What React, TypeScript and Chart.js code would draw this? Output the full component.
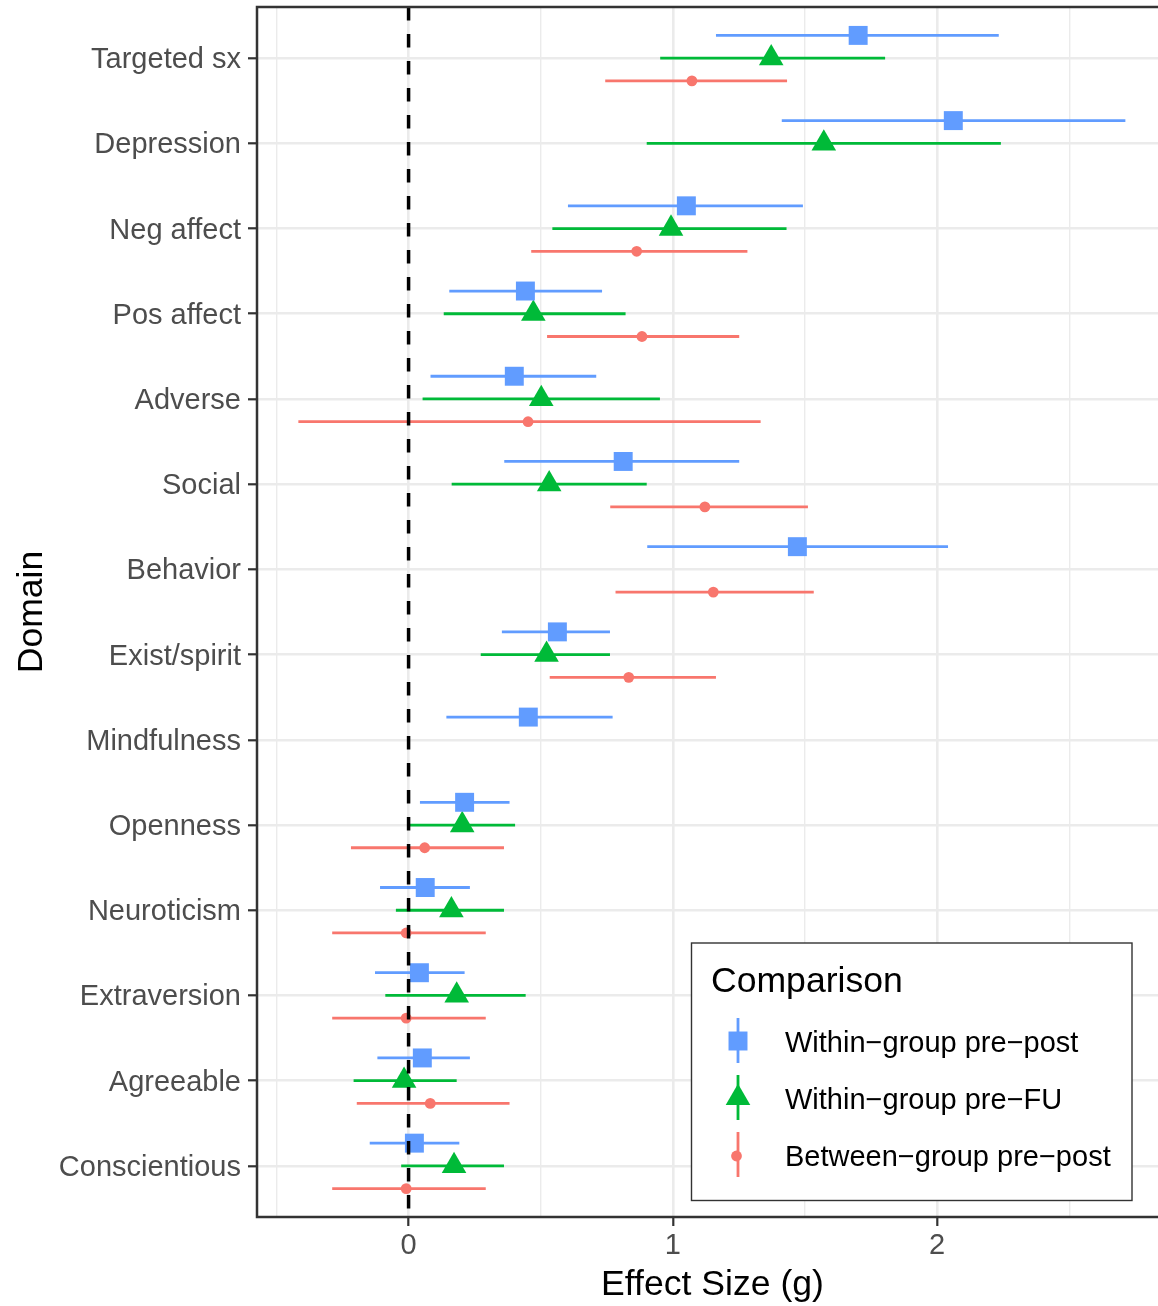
import React, { useEffect, useRef } from "react";
import { Chart, registerables } from "chart.js";

Chart.register(...registerables);

// ---------- data ----------
const DOMAINS = [
  "Targeted sx",
  "Depression",
  "Neg affect",
  "Pos affect",
  "Adverse",
  "Social",
  "Behavior",
  "Exist/spirit",
  "Mindfulness",
  "Openness",
  "Neuroticism",
  "Extraversion",
  "Agreeable",
  "Conscientious",
];

const SERIES_NAMES = [
  "Within\u2212group pre\u2212post",
  "Within\u2212group pre\u2212FU",
  "Between\u2212group pre\u2212post",
];

// Within-group pre-post
const PREPOST_EST = [1.701, 2.061, 1.051, 0.442, 0.4, 0.812, 1.471, 0.563, 0.453, 0.212, 0.063, 0.041, 0.052, 0.022];
const PREPOST_LO = [1.163, 1.412, 0.603, 0.154, 0.083, 0.362, 0.903, 0.353, 0.143, 0.043, -0.108, -0.127, -0.118, -0.147];
const PREPOST_HI = [2.233, 2.712, 1.492, 0.732, 0.71, 1.251, 2.041, 0.762, 0.772, 0.382, 0.232, 0.212, 0.232, 0.192];

// Within-group pre-FU
const PREFU_EST = [1.372, 1.571, 0.993, 0.472, 0.502, 0.532, null, 0.522, null, 0.203, 0.162, 0.182, -0.017, 0.172];
const PREFU_LO = [0.952, 0.901, 0.544, 0.133, 0.053, 0.163, null, 0.273, null, 0.005, -0.048, -0.088, -0.208, -0.028];
const PREFU_HI = [1.803, 2.241, 1.43, 0.821, 0.951, 0.901, null, 0.762, null, 0.403, 0.361, 0.443, 0.182, 0.361];

// Between-group pre-post
const BETWEEN_EST = [1.072, null, 0.863, 0.883, 0.452, 1.121, 1.153, 0.833, null, 0.061, -0.009, -0.009, 0.082, -0.009];
const BETWEEN_LO = [0.744, null, 0.464, 0.524, -0.417, 0.763, 0.783, 0.534, null, -0.218, -0.289, -0.289, -0.196, -0.289];
const BETWEEN_HI = [1.432, null, 1.282, 1.251, 1.332, 1.511, 1.533, 1.163, null, 0.361, 0.292, 0.292, 0.382, 0.292];

const X_TICKS = [-0.5, 0, 0.5, 1, 1.5, 2, 2.5];

// ---------- styles ----------
const FONT = "'Liberation Sans', Arial, Helvetica, sans-serif";
const COLORS = ["#619CFF", "#00BA38", "#F8766D"];
const POINT_STYLES = ["rect", "triangle", "circle"];
const POINT_RADII = [13.4, 14.2, 5.4];
const DODGE = [-0.2667, 0, 0.2667];
const X_MIN = -0.5735;
const X_MAX = 2.8733;
const BAR_WIDTH = 2.8;
const TICK_FONT_SIZE = 29;
const TITLE_FONT_SIZE = 35.6;

const SERIES = [
  { est: PREPOST_EST, lo: PREPOST_LO, hi: PREPOST_HI },
  { est: PREFU_EST, lo: PREFU_LO, hi: PREFU_HI },
  { est: BETWEEN_EST, lo: BETWEEN_LO, hi: BETWEEN_HI },
];

const errorBarPlugin = {
  id: "errorBars",
  beforeDatasetsDraw(chart: any) {
    const { ctx } = chart;
    const xs = chart.scales.x;
    const ys = chart.scales.y;
    chart.data.datasets.forEach((ds: any) => {
      ctx.save();
      ctx.strokeStyle = ds.backgroundColor;
      ctx.lineWidth = BAR_WIDTH;
      ctx.lineCap = "butt";
      ds.data.forEach((p: any) => {
        const py = ys.getPixelForValue(p.y);
        ctx.beginPath();
        ctx.moveTo(xs.getPixelForValue(p.lo), py);
        ctx.lineTo(xs.getPixelForValue(p.hi), py);
        ctx.stroke();
      });
      ctx.restore();
    });
  },
  afterDatasetsDraw(chart: any) {
    const { ctx, chartArea } = chart;
    const x0 = chart.scales.x.getPixelForValue(0);
    ctx.save();
    ctx.strokeStyle = "#000000";
    ctx.lineWidth = 3.5;
    ctx.setLineDash([13.5, 13.5]);
    ctx.beginPath();
    ctx.moveTo(x0, chartArea.top);
    ctx.lineTo(x0, chartArea.bottom);
    ctx.stroke();
    ctx.restore();
  },
  afterDraw(chart: any) {
    const { ctx, chartArea } = chart;
    ctx.save();
    // panel border
    ctx.strokeStyle = "#333333";
    ctx.lineWidth = 2.5;
    ctx.strokeRect(chartArea.left, chartArea.top, chartArea.right - chartArea.left, chartArea.bottom - chartArea.top);

    // axis titles
    ctx.fillStyle = "#000000";
    ctx.font = `${TITLE_FONT_SIZE}px ${FONT}`;
    ctx.textAlign = "center";
    ctx.textBaseline = "alphabetic";
    ctx.fillText("Effect Size (g)", (chartArea.left + chartArea.right) / 2, 1295);
    ctx.save();
    ctx.translate(41.5, (chartArea.top + chartArea.bottom) / 2);
    ctx.rotate(-Math.PI / 2);
    ctx.fillText("Domain", 0, 0);
    ctx.restore();

    // legend
    const lx = 691.5, ly = 943, lw = 440.5, lh = 257.5;
    ctx.fillStyle = "#ffffff";
    ctx.fillRect(lx, ly, lw, lh);
    ctx.strokeStyle = "#333333";
    ctx.lineWidth = 1.4;
    ctx.strokeRect(lx, ly, lw, lh);
    ctx.fillStyle = "#000000";
    ctx.textAlign = "left";
    ctx.font = `${TITLE_FONT_SIZE}px ${FONT}`;
    ctx.fillText("Comparison", 711, 992);
    ctx.font = `${TICK_FONT_SIZE}px ${FONT}`;
    SERIES_NAMES.forEach((name, k) => {
      const cx = 738;
      const cy = 1041 + k * 57;
      const col = COLORS[k];
      ctx.strokeStyle = col;
      ctx.lineWidth = BAR_WIDTH;
      ctx.beginPath();
      ctx.moveTo(cx, cy - 23);
      ctx.lineTo(cx, cy + 22);
      ctx.stroke();
      ctx.fillStyle = col;
      const style = POINT_STYLES[k];
      const r = POINT_RADII[k];
      if (style === "rect") {
        const h = r * Math.SQRT1_2;
        ctx.fillRect(cx - h, cy - h, 2 * h, 2 * h);
      } else if (style === "triangle") {
        ctx.beginPath();
        ctx.moveTo(cx, cy - r);
        ctx.lineTo(cx + r * Math.sin((2 * Math.PI) / 3), cy + r / 2);
        ctx.lineTo(cx - r * Math.sin((2 * Math.PI) / 3), cy + r / 2);
        ctx.closePath();
        ctx.fill();
      } else {
        ctx.beginPath();
        ctx.arc(cx - 1.5, cy + 1, r, 0, Math.PI * 2);
        ctx.fill();
      }
      ctx.fillStyle = "#000000";
      ctx.fillText(name, 785, cy + 10.5);
    });
    ctx.restore();
  },
};

export default function App() {
  const ref = useRef<HTMLCanvasElement>(null);

  useEffect(() => {
    document.body.style.margin = "0";
    document.body.style.overflow = "hidden";
    const canvas = ref.current;
    if (!canvas) return;

    const datasets = SERIES.map((s, k) => ({
      type: "scatter" as const,
      label: SERIES_NAMES[k],
      data: s.est
        .map((e, i) =>
          e === null ? null : { x: e, y: i + DODGE[k], lo: s.lo[i], hi: s.hi[i] }
        )
        .filter((p) => p !== null),
      pointStyle: POINT_STYLES[k],
      pointRadius: POINT_RADII[k],
      pointHoverRadius: POINT_RADII[k],
      backgroundColor: COLORS[k],
      borderColor: COLORS[k],
      borderWidth: 0,
    }));

    const isMajor = (c: any) => c && c.tick && Number.isInteger(c.tick.value);

    const chart = new Chart(canvas, {
      type: "scatter",
      data: { datasets: datasets as any },
      plugins: [errorBarPlugin],
      options: {
        animation: false,
        responsive: false,
        maintainAspectRatio: false,
        events: [],
        layout: { autoPadding: false, padding: { top: 7, left: 0, right: 0, bottom: 0 } },
        plugins: {
          legend: { display: false },
          tooltip: { enabled: false },
        },
        scales: {
          x: {
            type: "linear",
            position: "bottom",
            min: X_MIN,
            max: X_MAX,
            afterBuildTicks: (s: any) => {
              s.ticks = X_TICKS.map((v) => ({ value: v }));
            },
            afterFit: (s: any) => {
              s.height = 89;
              s.paddingLeft = 0;
              s.paddingRight = 0;
            },
            ticks: {
              autoSkip: false,
              maxRotation: 0,
              minRotation: 0,
              padding: 3,
              color: "#4D4D4D",
              font: { family: FONT, size: TICK_FONT_SIZE },
              callback: (v: any) => (Number.isInteger(v) ? String(v) : ""),
            },
            grid: {
              color: "#EBEBEB",
              lineWidth: (c: any) => (isMajor(c) ? 2.6 : 1.4),
              drawTicks: true,
              tickLength: 9,
              tickWidth: 2.2,
              tickColor: (c: any) => (isMajor(c) ? "#333333" : "rgba(0,0,0,0)"),
            },
            border: { display: false },
          },
          y: {
            type: "linear",
            reverse: true,
            min: -0.6,
            max: 13.6,
            afterBuildTicks: (s: any) => {
              s.ticks = DOMAINS.map((_, i) => ({ value: i }));
            },
            afterFit: (s: any) => {
              s.width = 257;
              s.paddingTop = 0;
              s.paddingBottom = 0;
            },
            ticks: {
              autoSkip: false,
              padding: 7,
              labelOffset: 2,
              color: "#4D4D4D",
              font: { family: FONT, size: TICK_FONT_SIZE },
              callback: (v: any) => DOMAINS[Math.round(v)] ?? "",
            },
            grid: {
              color: "#EBEBEB",
              lineWidth: 2.6,
              drawTicks: true,
              tickLength: 9,
              tickWidth: 2.2,
              tickColor: "#333333",
            },
            border: { display: false },
          },
        },
      } as any,
    });

    return () => chart.destroy();
  }, []);

  return (
    <div
      style={{
        width: 1158,
        height: 1306,
        overflow: "hidden",
        position: "relative",
        background: "#ffffff",
      }}
    >
      <canvas
        ref={ref}
        width={1168}
        height={1306}
        style={{ display: "block", width: 1168, height: 1306 }}
      />
    </div>
  );
}
